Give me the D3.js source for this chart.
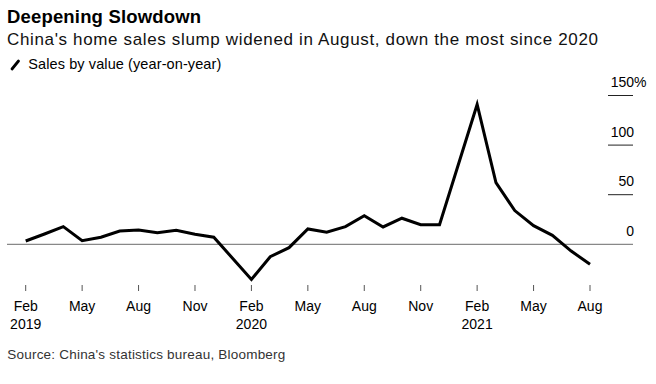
<!DOCTYPE html>
<html>
<head>
<meta charset="utf-8">
<script src="https://cdn.jsdelivr.net/npm/d3@7"></script>
<style>
  body { margin: 0; background: #fff; }
  text { font-family: "Liberation Sans", Arial, sans-serif; fill: #000; }
</style>
</head>
<body>
<div id="chart"></div>
<script>
{
// data: China home sales by value, y/y % (Jan is folded into Feb)
const months = ['2019-02', '2019-03', '2019-04', '2019-05', '2019-06', '2019-07', '2019-08',
    '2019-09', '2019-10', '2019-11', '2019-12',
    '2020-02', '2020-03', '2020-04', '2020-05', '2020-06', '2020-07', '2020-08',
    '2020-09', '2020-10', '2020-11', '2020-12',
    '2021-02', '2021-03', '2021-04', '2021-05', '2021-06', '2021-07', '2021-08'];
const sales = [3.3, 10.4, 17.8, 3.7, 7.1, 13.4, 14.4, 11.7, 14.1, 10.1, 7.1,
    -35.4, -12.5, -3.4, 15.5, 12.1, 17.8, 28.9, 17.5, 26.3, 19.8, 19.8,
    141, 62.2, 34, 18.8, 9, -6.8, -20.2];

const tickMonths = ['2019-02', '2019-05', '2019-08', '2019-11', '2020-02', '2020-05',
    '2020-08', '2020-11', '2021-02', '2021-05', '2021-08'];
const tickLabels = ['Feb', 'May', 'Aug', 'Nov', 'Feb', 'May', 'Aug', 'Nov', 'Feb', 'May', 'Aug'];
const yearLabels = ['2019', '', '', '', '2020', '', '', '', '2021', '', ''];
const yTicks = [0, 50, 100, 150];

const width = 656;
const height = 384;

// months since Feb 2019
const monthIndex = m => {
    const [y, mo] = m.split('-').map(Number);
    return (y - 2019) * 12 + (mo - 2);
};

const data = months.map((m, i) => ({i: monthIndex(m), v: sales[i]}));

let svg = d3.select('#chart')
    .append('svg')
    .attr('width', width)
    .attr('height', height);

let x = d3.scaleLinear()
    .domain([0, 30])
    .range([25.7, 590]);

let y = d3.scaleLinear()
    .domain([0, 150])
    .range([244.3, 95.5]);

// stretch text spacing so it spans the same width as in the original
function fit(sel, w) {
    sel.attr('textLength', w).attr('lengthAdjust', 'spacing');
    return sel;
}

// titles
fit(svg.append('text')
    .attr('x', 7).attr('y', 23)
    .style('font-size', '18.5px')
    .style('font-weight', 'bold')
    .text('Deepening Slowdown'), 194);

fit(svg.append('text')
    .attr('x', 7).attr('y', 44.5)
    .style('font-size', '17px')
    .style('fill', '#111')
    .text("China's home sales slump widened in August, down the most since 2020"), 591);

svg.append('line')
    .attr('x1', 12).attr('y1', 69)
    .attr('x2', 18.5).attr('y2', 61)
    .attr('stroke', '#000')
    .attr('stroke-width', 2.8)
    .attr('stroke-linecap', 'round');

fit(svg.append('text')
    .attr('x', 28.3).attr('y', 69)
    .style('font-size', '14.5px')
    .text('Sales by value (year-on-year)'), 193);

// y axis on the right: short ticks with labels above them
let yAxis = svg.append('g');
yAxis.selectAll('line.tick')
    .data(yTicks.filter(d => d !== 0))
    .enter().append('line')
    .attr('x1', 608).attr('x2', 633)
    .attr('y1', d => y(d)).attr('y2', d => y(d))
    .attr('stroke', '#222')
    .attr('stroke-width', 1);

yAxis.selectAll('text')
    .data(yTicks)
    .enter().append('text')
    .attr('x', 634)
    .attr('y', d => y(d) - 8.5)
    .style('text-anchor', 'end')
    .style('font-size', '14px')
    .text(d => d);

yAxis.append('text')
    .attr('x', 634)
    .attr('y', y(150) - 8.5)
    .style('font-size', '14px')
    .text('%');

// zero baseline
svg.append('line')
    .attr('x1', 7).attr('x2', 633)
    .attr('y1', y(0)).attr('y2', y(0))
    .attr('stroke', '#888')
    .attr('stroke-width', 1.2);

// x axis
let xAxis = svg.append('g');
xAxis.selectAll('line')
    .data(tickMonths)
    .enter().append('line')
    .attr('x1', d => x(monthIndex(d))).attr('x2', d => x(monthIndex(d)))
    .attr('y1', 285).attr('y2', 291)
    .attr('stroke', '#555')
    .attr('stroke-width', 1);

xAxis.selectAll('text.m')
    .data(tickMonths)
    .enter().append('text')
    .attr('class', 'm')
    .attr('x', d => x(monthIndex(d)))
    .attr('y', 310.5)
    .style('text-anchor', 'middle')
    .style('font-size', '14px')
    .text((d, i) => tickLabels[i]);

xAxis.selectAll('text.yr')
    .data(tickMonths)
    .enter().append('text')
    .attr('class', 'yr')
    .attr('x', d => x(monthIndex(d)))
    .attr('y', 329)
    .style('text-anchor', 'middle')
    .style('font-size', '14px')
    .text((d, i) => yearLabels[i]);

// the line
let line = d3.line()
    .x(d => x(d.i))
    .y(d => y(d.v));

svg.append('path')
    .datum(data)
    .attr('d', line)
    .attr('fill', 'none')
    .attr('stroke', '#000')
    .attr('stroke-width', 3)
    .attr('stroke-linejoin', 'miter');

fit(svg.append('text')
    .attr('x', 7.3).attr('y', 359)
    .style('font-size', '13.5px')
    .style('fill', '#333')
    .text("Source: China's statistics bureau, Bloomberg"), 278);
}
</script>
</body>
</html>
